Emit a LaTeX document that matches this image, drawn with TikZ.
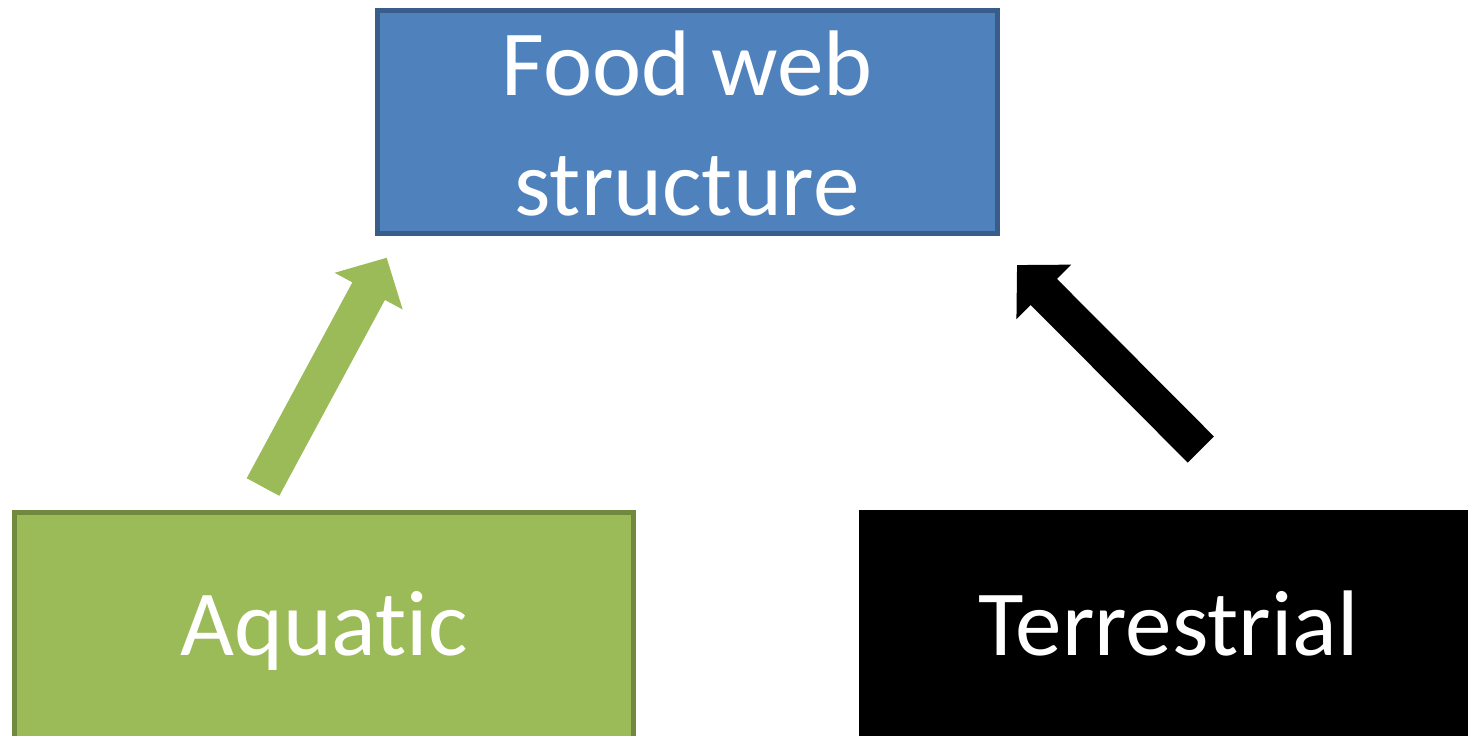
\documentclass[tikz,border=0pt]{standalone}
\usepackage{fontspec}
\setmainfont{Carlito}[Ligatures=NoCommon]
\usepackage{xcolor}
\usepackage{tikz}
\usetikzlibrary{arrows.meta}
\definecolor{webblue}{HTML}{4F81BD}
\definecolor{webblueline}{HTML}{385D8A}
\definecolor{aqgreen}{HTML}{9BBB59}
\definecolor{aqgreenline}{HTML}{71893F}
\tikzset{>=latex}
\tikzset{
    box/.style={rectangle, line width=0.05cm, text=white, align=center,
        font=\fontsize{26.5}{34}\selectfont, text height=0.6cm, text depth=0pt},
    bigarrow/.style={line width=0.37cm, -{Triangle[length=0.38cm, width=0.75cm]}}
}

\begin{document}
\begin{tikzpicture}
    \useasboundingbox (0,0) rectangle (14.68,7.35);
    \clip (0,0) rectangle (14.68,7.35);

    % Boxes
    \node[box, fill=webblue, draw=webblueline, minimum width=6.2cm, minimum height=2.23cm, text height=1.87cm] (fw) at (6.87,6.135) {Food web\\structure};
    \node[box, fill=aqgreen, draw=aqgreenline, minimum width=6.195cm, minimum height=2.26cm] (aq) at (3.24,1.10) {Aquatic};
    \node[box, fill=black, draw=black, minimum width=6.15cm, minimum height=2.26cm] (te) at (11.685,1.10) {Terrestrial};

    % Arrow ends
    \coordinate (aqtail) at (2.63,2.48);
    \coordinate (aqtip) at (3.867,4.773);
    \coordinate (tetail) at (12.008,2.855);
    \coordinate (tetip) at (10.17,4.70);

    % Arrows
    \draw[bigarrow, draw=aqgreen] (aqtail) -- (aqtip);
    \draw[bigarrow, draw=black] (tetail) -- (tetip);
\end{tikzpicture}
\end{document}
